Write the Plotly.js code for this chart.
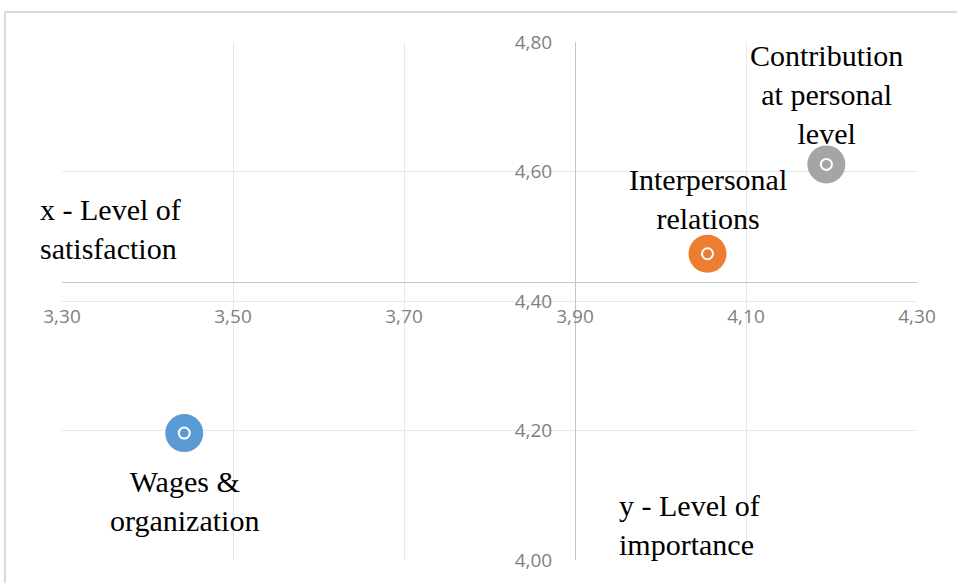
<!DOCTYPE html>
<html>
<head>
<meta charset="utf-8">
<script src="https://cdn.plot.ly/plotly-3.0.1.min.js"></script>
<style>html,body{margin:0;padding:0;background:#fff;}#chart{width:957px;height:583px;}</style>
</head>
<body>
<div id="chart"></div>
<script>
// Data
var categories = ["Wages &<br>organization", "Interpersonal<br>relations", "Contribution<br>at personal<br>level"];
var satisfaction = [3.443, 4.055, 4.194];   // x - Level of satisfaction
var importance = [4.196, 4.473, 4.611];     // y - Level of importance
var colors = ["#5b9bd5", "#ed7d31", "#a5a5a5"];
var xTicks = [3.30, 3.50, 3.70, 3.90, 4.10, 4.30];
var yTicks = [4.00, 4.20, 4.40, 4.60, 4.80];
var xCross = 3.90; // where the y axis crosses
var yCross = 4.43; // where the x axis crosses
var xRange = [3.30, 4.30];
var yRange = [4.00, 4.80];

var serif = {family: "Liberation Serif, Times New Roman, serif", size: 30, color: "#000"};

var traces = [
  {
    type: "scatter", mode: "markers",
    x: satisfaction, y: importance,
    marker: {size: 38, color: colors, line: {width: 0}},
    hoverinfo: "skip", cliponaxis: false
  },
  {
    type: "scatter", mode: "markers",
    x: satisfaction, y: importance,
    marker: {size: 11, symbol: "circle-open", color: "#ffffff", line: {width: 2, color: "#ffffff"}},
    hoverinfo: "skip", cliponaxis: false
  }
];

// label placement relative to each point (pixels)
var labelShift = [-68, 55, 70];
var annotations = categories.map(function (c, i) {
  return {xref: "x", yref: "y", x: satisfaction[i], y: importance[i],
          xanchor: "center", yanchor: "middle", yshift: labelShift[i],
          text: c, showarrow: false, align: "center", font: serif};
});
annotations.push(
  {xref: "paper", yref: "paper", x: -0.028, y: 0.712, xanchor: "left", yanchor: "top", align: "left",
   text: "x - Level of<br>satisfaction", showarrow: false, font: serif},
  {xref: "paper", yref: "paper", x: 0.649, y: 0.14, xanchor: "left", yanchor: "top", align: "left",
   text: "y - Level of<br>importance", showarrow: false, font: serif}
);

var tickFont = {family: "Open Sans, Noto Sans, sans-serif", size: 19, color: "#7f7f7f"};

var layout = {
  width: 957, height: 583,
  margin: {l: 62, r: 40, t: 42, b: 23},
  paper_bgcolor: "#ffffff", plot_bgcolor: "#ffffff",
  showlegend: false,
  separators: ",.",
  xaxis: {
    range: xRange, tickvals: xTicks, tickformat: ".2f",
    anchor: "free", position: (yCross - yRange[0]) / (yRange[1] - yRange[0]),
    showline: true, linecolor: "#c6c6c6", linewidth: 1.3,
    showgrid: true, gridcolor: "#e8e8e8", gridwidth: 1,
    zeroline: false, ticks: "", tickfont: tickFont, ticklabelstandoff: 17
  },
  yaxis: {
    range: yRange, tickvals: yTicks, tickformat: ".2f",
    anchor: "free", position: (xCross - xRange[0]) / (xRange[1] - xRange[0]),
    showline: true, linecolor: "#c6c6c6", linewidth: 1.3,
    showgrid: true, gridcolor: "#e8e8e8", gridwidth: 1,
    zeroline: false, ticks: "", tickfont: tickFont, ticklabelstandoff: 19
  },
  shapes: [
    {type: "rect", xref: "paper", yref: "paper",
     x0: -0.0667, x1: 1.1, y0: -0.1, y1: 1.0579,
     line: {color: "#d9d9d9", width: 2}, fillcolor: "rgba(0,0,0,0)", layer: "below"}
  ],
  annotations: annotations
};

Plotly.newPlot("chart", traces, layout, {staticPlot: true, displayModeBar: false});
</script>
</body>
</html>
